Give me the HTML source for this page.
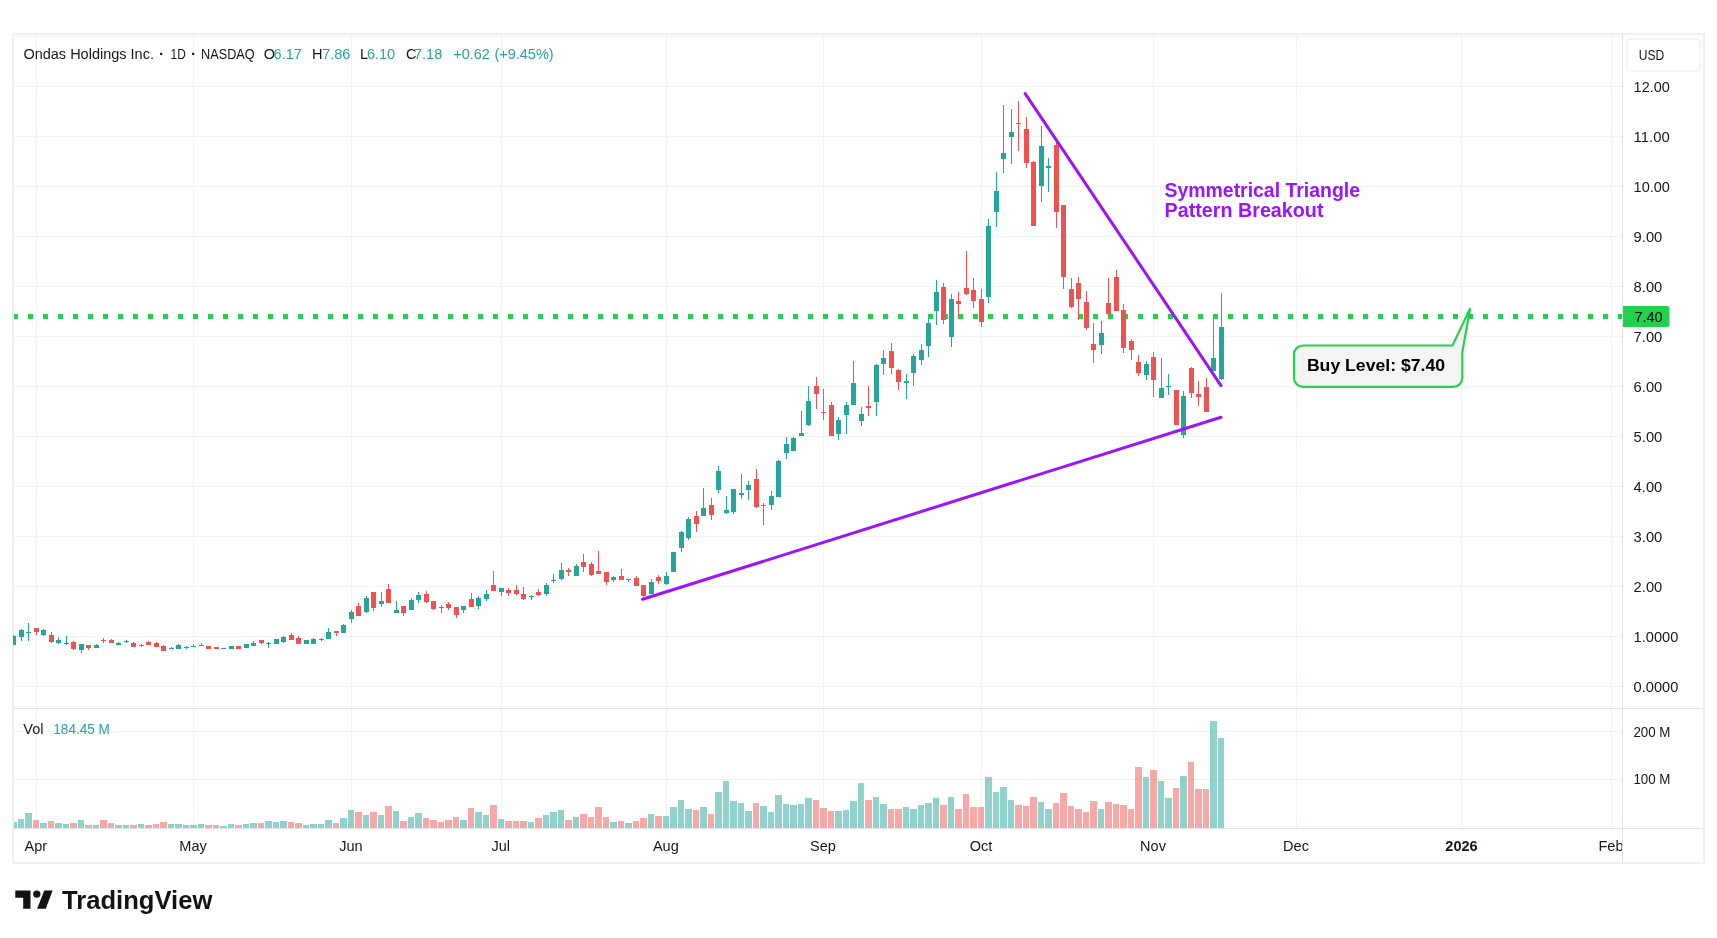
<!DOCTYPE html>
<html><head><meta charset="utf-8"><title>ONDS chart</title>
<style>html,body{margin:0;padding:0;background:#ffffff;width:1717px;height:938px;overflow:hidden;position:relative}</style>
</head><body>
<svg width="1717" height="938" viewBox="0 0 1717 938" style="position:absolute;left:0;top:0;display:block;will-change:transform"><g fill="#f0f0f0" shape-rendering="crispEdges"><rect x="12" y="33" width="1693" height="2"/><rect x="12" y="862" width="1693" height="2"/><rect x="12" y="33" width="2" height="831"/><rect x="1703" y="33" width="2" height="831"/></g><g fill="#f0f3fa" shape-rendering="crispEdges"><rect x="14" y="686" width="1608" height="1"/><rect x="14" y="636" width="1608" height="1"/><rect x="14" y="586" width="1608" height="1"/><rect x="14" y="536" width="1608" height="1"/><rect x="14" y="486" width="1608" height="1"/><rect x="14" y="436" width="1608" height="1"/><rect x="14" y="386" width="1608" height="1"/><rect x="14" y="336" width="1608" height="1"/><rect x="14" y="286" width="1608" height="1"/><rect x="14" y="236" width="1608" height="1"/><rect x="14" y="186" width="1608" height="1"/><rect x="14" y="136" width="1608" height="1"/><rect x="14" y="86" width="1608" height="1"/><rect x="14" y="36" width="1608" height="1"/><rect x="14" y="731" width="1608" height="1"/><rect x="14" y="779" width="1608" height="1"/><rect x="36" y="35" width="1" height="793"/><rect x="193" y="35" width="1" height="793"/><rect x="351" y="35" width="1" height="793"/><rect x="501" y="35" width="1" height="793"/><rect x="666" y="35" width="1" height="793"/><rect x="823" y="35" width="1" height="793"/><rect x="981" y="35" width="1" height="793"/><rect x="1153" y="35" width="1" height="793"/><rect x="1296" y="35" width="1" height="793"/><rect x="1461" y="35" width="1" height="793"/><rect x="1611" y="35" width="1" height="793"/></g><g fill="#e0e3eb" shape-rendering="crispEdges"><rect x="14" y="708" width="1689" height="1"/><rect x="14" y="828" width="1689" height="1"/><rect x="1622" y="35" width="1" height="827"/></g><g shape-rendering="crispEdges"><rect x="14" y="822" width="3" height="6" fill="rgba(38,166,154,0.5)"/><rect x="18" y="819" width="6" height="9" fill="rgba(38,166,154,0.5)"/><rect x="25" y="813" width="7" height="15" fill="rgba(38,166,154,0.5)"/><rect x="33" y="820" width="6" height="8" fill="rgba(239,83,80,0.5)"/><rect x="40" y="823" width="7" height="5" fill="rgba(38,166,154,0.5)"/><rect x="48" y="821" width="6" height="7" fill="rgba(239,83,80,0.5)"/><rect x="55" y="823" width="7" height="5" fill="rgba(38,166,154,0.5)"/><rect x="63" y="824" width="6" height="4" fill="rgba(38,166,154,0.5)"/><rect x="70" y="823" width="7" height="5" fill="rgba(239,83,80,0.5)"/><rect x="78" y="820" width="6" height="8" fill="rgba(38,166,154,0.5)"/><rect x="85" y="825" width="7" height="3" fill="rgba(239,83,80,0.5)"/><rect x="93" y="825" width="6" height="3" fill="rgba(38,166,154,0.5)"/><rect x="100" y="820" width="7" height="8" fill="rgba(239,83,80,0.5)"/><rect x="108" y="823" width="6" height="5" fill="rgba(239,83,80,0.5)"/><rect x="115" y="825" width="7" height="3" fill="rgba(38,166,154,0.5)"/><rect x="123" y="825" width="6" height="3" fill="rgba(38,166,154,0.5)"/><rect x="130" y="825" width="7" height="3" fill="rgba(239,83,80,0.5)"/><rect x="138" y="824" width="6" height="4" fill="rgba(38,166,154,0.5)"/><rect x="145" y="825" width="7" height="3" fill="rgba(239,83,80,0.5)"/><rect x="153" y="824" width="6" height="4" fill="rgba(239,83,80,0.5)"/><rect x="160" y="822" width="7" height="6" fill="rgba(239,83,80,0.5)"/><rect x="168" y="824" width="6" height="4" fill="rgba(38,166,154,0.5)"/><rect x="175" y="824" width="7" height="4" fill="rgba(38,166,154,0.5)"/><rect x="183" y="825" width="6" height="3" fill="rgba(38,166,154,0.5)"/><rect x="190" y="825" width="7" height="3" fill="rgba(38,166,154,0.5)"/><rect x="198" y="824" width="6" height="4" fill="rgba(38,166,154,0.5)"/><rect x="205" y="825" width="7" height="3" fill="rgba(239,83,80,0.5)"/><rect x="213" y="825" width="6" height="3" fill="rgba(239,83,80,0.5)"/><rect x="220" y="826" width="7" height="2" fill="rgba(38,166,154,0.5)"/><rect x="228" y="824" width="6" height="4" fill="rgba(38,166,154,0.5)"/><rect x="235" y="825" width="7" height="3" fill="rgba(239,83,80,0.5)"/><rect x="243" y="824" width="6" height="4" fill="rgba(38,166,154,0.5)"/><rect x="250" y="823" width="7" height="5" fill="rgba(38,166,154,0.5)"/><rect x="258" y="823" width="6" height="5" fill="rgba(239,83,80,0.5)"/><rect x="265" y="821" width="7" height="7" fill="rgba(38,166,154,0.5)"/><rect x="273" y="822" width="6" height="6" fill="rgba(38,166,154,0.5)"/><rect x="280" y="821" width="7" height="7" fill="rgba(38,166,154,0.5)"/><rect x="288" y="822" width="6" height="6" fill="rgba(239,83,80,0.5)"/><rect x="295" y="823" width="7" height="5" fill="rgba(239,83,80,0.5)"/><rect x="303" y="825" width="6" height="3" fill="rgba(38,166,154,0.5)"/><rect x="310" y="824" width="7" height="4" fill="rgba(38,166,154,0.5)"/><rect x="318" y="824" width="6" height="4" fill="rgba(38,166,154,0.5)"/><rect x="325" y="820" width="7" height="8" fill="rgba(38,166,154,0.5)"/><rect x="333" y="823" width="6" height="5" fill="rgba(239,83,80,0.5)"/><rect x="340" y="818" width="7" height="10" fill="rgba(38,166,154,0.5)"/><rect x="348" y="810" width="6" height="18" fill="rgba(38,166,154,0.5)"/><rect x="355" y="812" width="7" height="16" fill="rgba(239,83,80,0.5)"/><rect x="363" y="815" width="6" height="13" fill="rgba(38,166,154,0.5)"/><rect x="370" y="812" width="7" height="16" fill="rgba(239,83,80,0.5)"/><rect x="378" y="815" width="6" height="13" fill="rgba(38,166,154,0.5)"/><rect x="385" y="806" width="7" height="22" fill="rgba(239,83,80,0.5)"/><rect x="393" y="811" width="6" height="17" fill="rgba(38,166,154,0.5)"/><rect x="400" y="821" width="7" height="7" fill="rgba(239,83,80,0.5)"/><rect x="408" y="817" width="6" height="11" fill="rgba(38,166,154,0.5)"/><rect x="415" y="813" width="7" height="15" fill="rgba(38,166,154,0.5)"/><rect x="423" y="818" width="6" height="10" fill="rgba(239,83,80,0.5)"/><rect x="430" y="820" width="7" height="8" fill="rgba(239,83,80,0.5)"/><rect x="438" y="822" width="6" height="6" fill="rgba(239,83,80,0.5)"/><rect x="445" y="820" width="7" height="8" fill="rgba(239,83,80,0.5)"/><rect x="453" y="817" width="6" height="11" fill="rgba(239,83,80,0.5)"/><rect x="460" y="820" width="7" height="8" fill="rgba(38,166,154,0.5)"/><rect x="468" y="808" width="6" height="20" fill="rgba(239,83,80,0.5)"/><rect x="475" y="812" width="7" height="16" fill="rgba(38,166,154,0.5)"/><rect x="483" y="815" width="6" height="13" fill="rgba(38,166,154,0.5)"/><rect x="490" y="805" width="7" height="23" fill="rgba(239,83,80,0.5)"/><rect x="498" y="819" width="6" height="9" fill="rgba(38,166,154,0.5)"/><rect x="505" y="821" width="7" height="7" fill="rgba(239,83,80,0.5)"/><rect x="513" y="821" width="6" height="7" fill="rgba(239,83,80,0.5)"/><rect x="520" y="821" width="7" height="7" fill="rgba(239,83,80,0.5)"/><rect x="528" y="822" width="6" height="6" fill="rgba(38,166,154,0.5)"/><rect x="535" y="818" width="7" height="10" fill="rgba(239,83,80,0.5)"/><rect x="543" y="815" width="6" height="13" fill="rgba(38,166,154,0.5)"/><rect x="550" y="812" width="7" height="16" fill="rgba(38,166,154,0.5)"/><rect x="558" y="810" width="6" height="18" fill="rgba(38,166,154,0.5)"/><rect x="565" y="820" width="7" height="8" fill="rgba(239,83,80,0.5)"/><rect x="573" y="817" width="6" height="11" fill="rgba(38,166,154,0.5)"/><rect x="580" y="814" width="7" height="14" fill="rgba(239,83,80,0.5)"/><rect x="588" y="817" width="6" height="11" fill="rgba(239,83,80,0.5)"/><rect x="595" y="807" width="7" height="21" fill="rgba(239,83,80,0.5)"/><rect x="603" y="817" width="6" height="11" fill="rgba(239,83,80,0.5)"/><rect x="610" y="822" width="7" height="6" fill="rgba(38,166,154,0.5)"/><rect x="618" y="821" width="6" height="7" fill="rgba(239,83,80,0.5)"/><rect x="625" y="823" width="7" height="5" fill="rgba(38,166,154,0.5)"/><rect x="633" y="821" width="6" height="7" fill="rgba(239,83,80,0.5)"/><rect x="640" y="818" width="7" height="10" fill="rgba(239,83,80,0.5)"/><rect x="648" y="814" width="6" height="14" fill="rgba(38,166,154,0.5)"/><rect x="655" y="816" width="7" height="12" fill="rgba(239,83,80,0.5)"/><rect x="663" y="816" width="6" height="12" fill="rgba(38,166,154,0.5)"/><rect x="670" y="807" width="7" height="21" fill="rgba(38,166,154,0.5)"/><rect x="678" y="800" width="6" height="28" fill="rgba(38,166,154,0.5)"/><rect x="685" y="809" width="7" height="19" fill="rgba(38,166,154,0.5)"/><rect x="693" y="810" width="6" height="18" fill="rgba(239,83,80,0.5)"/><rect x="700" y="807" width="7" height="21" fill="rgba(38,166,154,0.5)"/><rect x="708" y="814" width="6" height="14" fill="rgba(239,83,80,0.5)"/><rect x="715" y="792" width="7" height="36" fill="rgba(38,166,154,0.5)"/><rect x="723" y="781" width="6" height="47" fill="rgba(38,166,154,0.5)"/><rect x="730" y="801" width="7" height="27" fill="rgba(38,166,154,0.5)"/><rect x="738" y="803" width="6" height="25" fill="rgba(38,166,154,0.5)"/><rect x="745" y="811" width="7" height="17" fill="rgba(38,166,154,0.5)"/><rect x="753" y="803" width="6" height="25" fill="rgba(239,83,80,0.5)"/><rect x="760" y="806" width="7" height="22" fill="rgba(38,166,154,0.5)"/><rect x="768" y="812" width="6" height="16" fill="rgba(38,166,154,0.5)"/><rect x="775" y="795" width="7" height="33" fill="rgba(38,166,154,0.5)"/><rect x="783" y="804" width="6" height="24" fill="rgba(38,166,154,0.5)"/><rect x="790" y="805" width="7" height="23" fill="rgba(38,166,154,0.5)"/><rect x="798" y="804" width="6" height="24" fill="rgba(38,166,154,0.5)"/><rect x="805" y="798" width="7" height="30" fill="rgba(38,166,154,0.5)"/><rect x="813" y="800" width="6" height="28" fill="rgba(239,83,80,0.5)"/><rect x="820" y="808" width="7" height="20" fill="rgba(239,83,80,0.5)"/><rect x="828" y="811" width="6" height="17" fill="rgba(239,83,80,0.5)"/><rect x="835" y="811" width="7" height="17" fill="rgba(38,166,154,0.5)"/><rect x="843" y="810" width="6" height="18" fill="rgba(38,166,154,0.5)"/><rect x="850" y="801" width="7" height="27" fill="rgba(38,166,154,0.5)"/><rect x="858" y="783" width="6" height="45" fill="rgba(38,166,154,0.5)"/><rect x="865" y="800" width="7" height="28" fill="rgba(239,83,80,0.5)"/><rect x="873" y="797" width="6" height="31" fill="rgba(38,166,154,0.5)"/><rect x="880" y="804" width="7" height="24" fill="rgba(38,166,154,0.5)"/><rect x="888" y="809" width="6" height="19" fill="rgba(239,83,80,0.5)"/><rect x="895" y="809" width="7" height="19" fill="rgba(239,83,80,0.5)"/><rect x="903" y="807" width="6" height="21" fill="rgba(38,166,154,0.5)"/><rect x="910" y="809" width="7" height="19" fill="rgba(38,166,154,0.5)"/><rect x="918" y="805" width="6" height="23" fill="rgba(38,166,154,0.5)"/><rect x="925" y="803" width="7" height="25" fill="rgba(38,166,154,0.5)"/><rect x="933" y="798" width="6" height="30" fill="rgba(38,166,154,0.5)"/><rect x="940" y="805" width="7" height="23" fill="rgba(239,83,80,0.5)"/><rect x="948" y="797" width="6" height="31" fill="rgba(38,166,154,0.5)"/><rect x="955" y="809" width="7" height="19" fill="rgba(239,83,80,0.5)"/><rect x="963" y="794" width="6" height="34" fill="rgba(239,83,80,0.5)"/><rect x="970" y="807" width="7" height="21" fill="rgba(239,83,80,0.5)"/><rect x="978" y="807" width="6" height="21" fill="rgba(239,83,80,0.5)"/><rect x="985" y="777" width="7" height="51" fill="rgba(38,166,154,0.5)"/><rect x="993" y="792" width="6" height="36" fill="rgba(38,166,154,0.5)"/><rect x="1000" y="787" width="7" height="41" fill="rgba(38,166,154,0.5)"/><rect x="1008" y="800" width="6" height="28" fill="rgba(38,166,154,0.5)"/><rect x="1015" y="805" width="7" height="23" fill="rgba(239,83,80,0.5)"/><rect x="1023" y="806" width="6" height="22" fill="rgba(239,83,80,0.5)"/><rect x="1030" y="797" width="7" height="31" fill="rgba(239,83,80,0.5)"/><rect x="1038" y="802" width="6" height="26" fill="rgba(38,166,154,0.5)"/><rect x="1045" y="809" width="7" height="19" fill="rgba(38,166,154,0.5)"/><rect x="1053" y="803" width="6" height="25" fill="rgba(239,83,80,0.5)"/><rect x="1060" y="793" width="7" height="35" fill="rgba(239,83,80,0.5)"/><rect x="1068" y="806" width="6" height="22" fill="rgba(239,83,80,0.5)"/><rect x="1075" y="809" width="7" height="19" fill="rgba(239,83,80,0.5)"/><rect x="1083" y="812" width="6" height="16" fill="rgba(239,83,80,0.5)"/><rect x="1090" y="801" width="7" height="27" fill="rgba(239,83,80,0.5)"/><rect x="1098" y="809" width="6" height="19" fill="rgba(38,166,154,0.5)"/><rect x="1105" y="802" width="7" height="26" fill="rgba(239,83,80,0.5)"/><rect x="1113" y="804" width="6" height="24" fill="rgba(239,83,80,0.5)"/><rect x="1120" y="805" width="7" height="23" fill="rgba(239,83,80,0.5)"/><rect x="1128" y="809" width="6" height="19" fill="rgba(239,83,80,0.5)"/><rect x="1135" y="767" width="7" height="61" fill="rgba(239,83,80,0.5)"/><rect x="1143" y="777" width="6" height="51" fill="rgba(38,166,154,0.5)"/><rect x="1150" y="770" width="7" height="58" fill="rgba(239,83,80,0.5)"/><rect x="1158" y="781" width="6" height="47" fill="rgba(38,166,154,0.5)"/><rect x="1165" y="798" width="7" height="30" fill="rgba(38,166,154,0.5)"/><rect x="1173" y="788" width="6" height="40" fill="rgba(239,83,80,0.5)"/><rect x="1180" y="776" width="7" height="52" fill="rgba(38,166,154,0.5)"/><rect x="1188" y="762" width="6" height="66" fill="rgba(239,83,80,0.5)"/><rect x="1195" y="789" width="7" height="39" fill="rgba(239,83,80,0.5)"/><rect x="1203" y="789" width="6" height="39" fill="rgba(239,83,80,0.5)"/><rect x="1210" y="721" width="7" height="107" fill="rgba(38,166,154,0.5)"/><rect x="1218" y="738" width="6" height="90" fill="rgba(38,166,154,0.5)"/></g><g fill="#22d24c" shape-rendering="crispEdges"><rect x="14" y="314" width="4" height="5"/><rect x="28" y="314" width="5" height="5"/><rect x="43" y="314" width="5" height="5"/><rect x="58" y="314" width="5" height="5"/><rect x="73" y="314" width="5" height="5"/><rect x="88" y="314" width="5" height="5"/><rect x="103" y="314" width="5" height="5"/><rect x="118" y="314" width="5" height="5"/><rect x="133" y="314" width="5" height="5"/><rect x="148" y="314" width="5" height="5"/><rect x="163" y="314" width="5" height="5"/><rect x="178" y="314" width="5" height="5"/><rect x="193" y="314" width="5" height="5"/><rect x="208" y="314" width="5" height="5"/><rect x="223" y="314" width="5" height="5"/><rect x="238" y="314" width="5" height="5"/><rect x="253" y="314" width="5" height="5"/><rect x="268" y="314" width="5" height="5"/><rect x="283" y="314" width="5" height="5"/><rect x="298" y="314" width="5" height="5"/><rect x="313" y="314" width="5" height="5"/><rect x="328" y="314" width="5" height="5"/><rect x="343" y="314" width="5" height="5"/><rect x="358" y="314" width="5" height="5"/><rect x="373" y="314" width="5" height="5"/><rect x="388" y="314" width="5" height="5"/><rect x="403" y="314" width="5" height="5"/><rect x="418" y="314" width="5" height="5"/><rect x="433" y="314" width="5" height="5"/><rect x="448" y="314" width="5" height="5"/><rect x="463" y="314" width="5" height="5"/><rect x="478" y="314" width="5" height="5"/><rect x="493" y="314" width="5" height="5"/><rect x="508" y="314" width="5" height="5"/><rect x="523" y="314" width="5" height="5"/><rect x="538" y="314" width="5" height="5"/><rect x="553" y="314" width="5" height="5"/><rect x="568" y="314" width="5" height="5"/><rect x="583" y="314" width="5" height="5"/><rect x="598" y="314" width="5" height="5"/><rect x="613" y="314" width="5" height="5"/><rect x="628" y="314" width="5" height="5"/><rect x="643" y="314" width="5" height="5"/><rect x="658" y="314" width="5" height="5"/><rect x="673" y="314" width="5" height="5"/><rect x="688" y="314" width="5" height="5"/><rect x="703" y="314" width="5" height="5"/><rect x="718" y="314" width="5" height="5"/><rect x="733" y="314" width="5" height="5"/><rect x="748" y="314" width="5" height="5"/><rect x="763" y="314" width="5" height="5"/><rect x="778" y="314" width="5" height="5"/><rect x="793" y="314" width="5" height="5"/><rect x="808" y="314" width="5" height="5"/><rect x="823" y="314" width="5" height="5"/><rect x="838" y="314" width="5" height="5"/><rect x="853" y="314" width="5" height="5"/><rect x="868" y="314" width="5" height="5"/><rect x="883" y="314" width="5" height="5"/><rect x="898" y="314" width="5" height="5"/><rect x="913" y="314" width="5" height="5"/><rect x="928" y="314" width="5" height="5"/><rect x="943" y="314" width="5" height="5"/><rect x="958" y="314" width="5" height="5"/><rect x="973" y="314" width="5" height="5"/><rect x="988" y="314" width="5" height="5"/><rect x="1003" y="314" width="5" height="5"/><rect x="1018" y="314" width="5" height="5"/><rect x="1033" y="314" width="5" height="5"/><rect x="1048" y="314" width="5" height="5"/><rect x="1063" y="314" width="5" height="5"/><rect x="1078" y="314" width="5" height="5"/><rect x="1093" y="314" width="5" height="5"/><rect x="1108" y="314" width="5" height="5"/><rect x="1123" y="314" width="5" height="5"/><rect x="1138" y="314" width="5" height="5"/><rect x="1153" y="314" width="5" height="5"/><rect x="1168" y="314" width="5" height="5"/><rect x="1183" y="314" width="5" height="5"/><rect x="1198" y="314" width="5" height="5"/><rect x="1213" y="314" width="5" height="5"/><rect x="1228" y="314" width="5" height="5"/><rect x="1243" y="314" width="5" height="5"/><rect x="1258" y="314" width="5" height="5"/><rect x="1273" y="314" width="5" height="5"/><rect x="1288" y="314" width="5" height="5"/><rect x="1303" y="314" width="5" height="5"/><rect x="1318" y="314" width="5" height="5"/><rect x="1333" y="314" width="5" height="5"/><rect x="1348" y="314" width="5" height="5"/><rect x="1363" y="314" width="5" height="5"/><rect x="1378" y="314" width="5" height="5"/><rect x="1393" y="314" width="5" height="5"/><rect x="1408" y="314" width="5" height="5"/><rect x="1423" y="314" width="5" height="5"/><rect x="1438" y="314" width="5" height="5"/><rect x="1453" y="314" width="5" height="5"/><rect x="1468" y="314" width="5" height="5"/><rect x="1483" y="314" width="5" height="5"/><rect x="1498" y="314" width="5" height="5"/><rect x="1513" y="314" width="5" height="5"/><rect x="1528" y="314" width="5" height="5"/><rect x="1543" y="314" width="5" height="5"/><rect x="1558" y="314" width="5" height="5"/><rect x="1573" y="314" width="5" height="5"/><rect x="1588" y="314" width="5" height="5"/><rect x="1603" y="314" width="5" height="5"/><rect x="1618" y="314" width="4" height="5"/></g><g shape-rendering="crispEdges"><rect x="13" y="635" width="1" height="10" fill="#26a69a"/><rect x="14" y="636" width="2" height="9" fill="#26a69a"/><rect x="21" y="629" width="1" height="12" fill="#26a69a"/><rect x="19" y="630" width="5" height="7" fill="#26a69a"/><rect x="28" y="623" width="1" height="18" fill="#26a69a"/><rect x="26" y="632" width="5" height="1" fill="#26a69a"/><rect x="36" y="628" width="1" height="7" fill="#ef5350"/><rect x="34" y="628" width="5" height="4" fill="#ef5350"/><rect x="43" y="629" width="1" height="7" fill="#26a69a"/><rect x="41" y="630" width="5" height="5" fill="#26a69a"/><rect x="51" y="632" width="1" height="11" fill="#ef5350"/><rect x="49" y="635" width="5" height="7" fill="#ef5350"/><rect x="58" y="637" width="1" height="7" fill="#26a69a"/><rect x="56" y="640" width="5" height="3" fill="#26a69a"/><rect x="66" y="636" width="1" height="9" fill="#26a69a"/><rect x="64" y="643" width="5" height="1" fill="#26a69a"/><rect x="73" y="641" width="1" height="9" fill="#ef5350"/><rect x="71" y="642" width="5" height="7" fill="#ef5350"/><rect x="81" y="644" width="1" height="9" fill="#26a69a"/><rect x="79" y="644" width="5" height="6" fill="#26a69a"/><rect x="88" y="645" width="1" height="5" fill="#ef5350"/><rect x="86" y="645" width="5" height="3" fill="#ef5350"/><rect x="96" y="644" width="1" height="4" fill="#26a69a"/><rect x="94" y="645" width="5" height="3" fill="#26a69a"/><rect x="103" y="638" width="1" height="5" fill="#ef5350"/><rect x="101" y="640" width="5" height="1" fill="#ef5350"/><rect x="111" y="639" width="1" height="4" fill="#ef5350"/><rect x="109" y="640" width="5" height="3" fill="#ef5350"/><rect x="118" y="642" width="1" height="3" fill="#26a69a"/><rect x="116" y="643" width="5" height="2" fill="#26a69a"/><rect x="126" y="640" width="1" height="3" fill="#26a69a"/><rect x="124" y="641" width="5" height="1" fill="#26a69a"/><rect x="133" y="642" width="1" height="5" fill="#ef5350"/><rect x="131" y="643" width="5" height="4" fill="#ef5350"/><rect x="141" y="644" width="1" height="3" fill="#26a69a"/><rect x="139" y="645" width="5" height="1" fill="#26a69a"/><rect x="148" y="641" width="1" height="4" fill="#ef5350"/><rect x="146" y="642" width="5" height="3" fill="#ef5350"/><rect x="156" y="642" width="1" height="5" fill="#ef5350"/><rect x="154" y="643" width="5" height="4" fill="#ef5350"/><rect x="163" y="645" width="1" height="6" fill="#ef5350"/><rect x="161" y="646" width="5" height="5" fill="#ef5350"/><rect x="171" y="647" width="1" height="2" fill="#26a69a"/><rect x="169" y="648" width="5" height="1" fill="#26a69a"/><rect x="178" y="644" width="1" height="5" fill="#26a69a"/><rect x="176" y="645" width="5" height="4" fill="#26a69a"/><rect x="186" y="646" width="1" height="3" fill="#26a69a"/><rect x="184" y="647" width="5" height="1" fill="#26a69a"/><rect x="193" y="644" width="1" height="3" fill="#26a69a"/><rect x="191" y="646" width="5" height="1" fill="#26a69a"/><rect x="201" y="643" width="1" height="3" fill="#26a69a"/><rect x="199" y="645" width="5" height="1" fill="#26a69a"/><rect x="208" y="646" width="1" height="3" fill="#ef5350"/><rect x="206" y="646" width="5" height="3" fill="#ef5350"/><rect x="216" y="647" width="1" height="2" fill="#ef5350"/><rect x="214" y="647" width="5" height="2" fill="#ef5350"/><rect x="223" y="648" width="1" height="1" fill="#26a69a"/><rect x="221" y="648" width="5" height="1" fill="#26a69a"/><rect x="231" y="646" width="1" height="3" fill="#26a69a"/><rect x="229" y="646" width="5" height="3" fill="#26a69a"/><rect x="238" y="646" width="1" height="3" fill="#ef5350"/><rect x="236" y="646" width="5" height="3" fill="#ef5350"/><rect x="246" y="644" width="1" height="4" fill="#26a69a"/><rect x="244" y="644" width="5" height="4" fill="#26a69a"/><rect x="253" y="641" width="1" height="5" fill="#26a69a"/><rect x="251" y="643" width="5" height="3" fill="#26a69a"/><rect x="261" y="640" width="1" height="4" fill="#ef5350"/><rect x="259" y="640" width="5" height="3" fill="#ef5350"/><rect x="268" y="642" width="1" height="6" fill="#26a69a"/><rect x="266" y="643" width="5" height="1" fill="#26a69a"/><rect x="276" y="639" width="1" height="5" fill="#26a69a"/><rect x="274" y="639" width="5" height="5" fill="#26a69a"/><rect x="283" y="636" width="1" height="7" fill="#26a69a"/><rect x="281" y="637" width="5" height="5" fill="#26a69a"/><rect x="291" y="633" width="1" height="7" fill="#ef5350"/><rect x="289" y="635" width="5" height="5" fill="#ef5350"/><rect x="298" y="636" width="1" height="8" fill="#ef5350"/><rect x="296" y="638" width="5" height="6" fill="#ef5350"/><rect x="306" y="640" width="1" height="4" fill="#26a69a"/><rect x="304" y="640" width="5" height="4" fill="#26a69a"/><rect x="313" y="638" width="1" height="6" fill="#26a69a"/><rect x="311" y="639" width="5" height="5" fill="#26a69a"/><rect x="321" y="638" width="1" height="3" fill="#26a69a"/><rect x="319" y="639" width="5" height="1" fill="#26a69a"/><rect x="328" y="628" width="1" height="11" fill="#26a69a"/><rect x="326" y="632" width="5" height="7" fill="#26a69a"/><rect x="336" y="631" width="1" height="5" fill="#ef5350"/><rect x="334" y="631" width="5" height="2" fill="#ef5350"/><rect x="343" y="624" width="1" height="9" fill="#26a69a"/><rect x="341" y="625" width="5" height="8" fill="#26a69a"/><rect x="351" y="610" width="1" height="13" fill="#26a69a"/><rect x="349" y="612" width="5" height="7" fill="#26a69a"/><rect x="358" y="603" width="1" height="13" fill="#ef5350"/><rect x="356" y="606" width="5" height="10" fill="#ef5350"/><rect x="366" y="596" width="1" height="17" fill="#26a69a"/><rect x="364" y="598" width="5" height="14" fill="#26a69a"/><rect x="373" y="592" width="1" height="19" fill="#ef5350"/><rect x="371" y="592" width="5" height="16" fill="#ef5350"/><rect x="381" y="592" width="1" height="15" fill="#26a69a"/><rect x="379" y="601" width="5" height="3" fill="#26a69a"/><rect x="388" y="584" width="1" height="19" fill="#ef5350"/><rect x="386" y="589" width="5" height="14" fill="#ef5350"/><rect x="396" y="601" width="1" height="12" fill="#26a69a"/><rect x="394" y="610" width="5" height="3" fill="#26a69a"/><rect x="403" y="606" width="1" height="10" fill="#ef5350"/><rect x="401" y="606" width="5" height="7" fill="#ef5350"/><rect x="411" y="598" width="1" height="12" fill="#26a69a"/><rect x="409" y="600" width="5" height="10" fill="#26a69a"/><rect x="418" y="592" width="1" height="11" fill="#26a69a"/><rect x="416" y="595" width="5" height="5" fill="#26a69a"/><rect x="426" y="591" width="1" height="12" fill="#ef5350"/><rect x="424" y="594" width="5" height="8" fill="#ef5350"/><rect x="433" y="601" width="1" height="9" fill="#ef5350"/><rect x="431" y="601" width="5" height="8" fill="#ef5350"/><rect x="441" y="605" width="1" height="8" fill="#ef5350"/><rect x="439" y="607" width="5" height="1" fill="#ef5350"/><rect x="448" y="602" width="1" height="8" fill="#ef5350"/><rect x="446" y="604" width="5" height="4" fill="#ef5350"/><rect x="456" y="607" width="1" height="11" fill="#ef5350"/><rect x="454" y="607" width="5" height="8" fill="#ef5350"/><rect x="463" y="606" width="1" height="7" fill="#26a69a"/><rect x="461" y="606" width="5" height="4" fill="#26a69a"/><rect x="471" y="593" width="1" height="14" fill="#ef5350"/><rect x="469" y="599" width="5" height="8" fill="#ef5350"/><rect x="478" y="596" width="1" height="13" fill="#26a69a"/><rect x="476" y="598" width="5" height="8" fill="#26a69a"/><rect x="486" y="590" width="1" height="11" fill="#26a69a"/><rect x="484" y="594" width="5" height="5" fill="#26a69a"/><rect x="493" y="571" width="1" height="20" fill="#ef5350"/><rect x="491" y="585" width="5" height="6" fill="#ef5350"/><rect x="501" y="588" width="1" height="8" fill="#26a69a"/><rect x="499" y="588" width="5" height="4" fill="#26a69a"/><rect x="508" y="588" width="1" height="8" fill="#ef5350"/><rect x="506" y="590" width="5" height="3" fill="#ef5350"/><rect x="516" y="585" width="1" height="10" fill="#ef5350"/><rect x="514" y="590" width="5" height="4" fill="#ef5350"/><rect x="523" y="587" width="1" height="13" fill="#ef5350"/><rect x="521" y="594" width="5" height="5" fill="#ef5350"/><rect x="531" y="595" width="1" height="5" fill="#26a69a"/><rect x="529" y="596" width="5" height="1" fill="#26a69a"/><rect x="538" y="589" width="1" height="7" fill="#ef5350"/><rect x="536" y="592" width="5" height="3" fill="#ef5350"/><rect x="546" y="583" width="1" height="13" fill="#26a69a"/><rect x="544" y="585" width="5" height="9" fill="#26a69a"/><rect x="553" y="574" width="1" height="9" fill="#26a69a"/><rect x="551" y="580" width="5" height="1" fill="#26a69a"/><rect x="561" y="563" width="1" height="17" fill="#26a69a"/><rect x="559" y="570" width="5" height="9" fill="#26a69a"/><rect x="568" y="568" width="1" height="8" fill="#ef5350"/><rect x="566" y="570" width="5" height="2" fill="#ef5350"/><rect x="576" y="564" width="1" height="12" fill="#26a69a"/><rect x="574" y="566" width="5" height="10" fill="#26a69a"/><rect x="583" y="554" width="1" height="18" fill="#ef5350"/><rect x="581" y="562" width="5" height="5" fill="#ef5350"/><rect x="591" y="562" width="1" height="14" fill="#ef5350"/><rect x="589" y="564" width="5" height="11" fill="#ef5350"/><rect x="598" y="551" width="1" height="23" fill="#ef5350"/><rect x="596" y="571" width="5" height="3" fill="#ef5350"/><rect x="606" y="572" width="1" height="13" fill="#ef5350"/><rect x="604" y="572" width="5" height="10" fill="#ef5350"/><rect x="613" y="576" width="1" height="6" fill="#26a69a"/><rect x="611" y="577" width="5" height="3" fill="#26a69a"/><rect x="621" y="569" width="1" height="11" fill="#ef5350"/><rect x="619" y="576" width="5" height="4" fill="#ef5350"/><rect x="628" y="579" width="1" height="3" fill="#26a69a"/><rect x="626" y="579" width="5" height="1" fill="#26a69a"/><rect x="636" y="576" width="1" height="10" fill="#ef5350"/><rect x="634" y="578" width="5" height="8" fill="#ef5350"/><rect x="643" y="585" width="1" height="12" fill="#ef5350"/><rect x="641" y="585" width="5" height="11" fill="#ef5350"/><rect x="651" y="579" width="1" height="15" fill="#26a69a"/><rect x="649" y="582" width="5" height="12" fill="#26a69a"/><rect x="658" y="575" width="1" height="9" fill="#ef5350"/><rect x="656" y="577" width="5" height="4" fill="#ef5350"/><rect x="666" y="572" width="1" height="13" fill="#26a69a"/><rect x="664" y="576" width="5" height="8" fill="#26a69a"/><rect x="673" y="552" width="1" height="20" fill="#26a69a"/><rect x="671" y="552" width="5" height="20" fill="#26a69a"/><rect x="681" y="531" width="1" height="21" fill="#26a69a"/><rect x="679" y="532" width="5" height="16" fill="#26a69a"/><rect x="688" y="517" width="1" height="23" fill="#26a69a"/><rect x="686" y="519" width="5" height="19" fill="#26a69a"/><rect x="696" y="511" width="1" height="21" fill="#ef5350"/><rect x="694" y="516" width="5" height="8" fill="#ef5350"/><rect x="703" y="488" width="1" height="28" fill="#26a69a"/><rect x="701" y="508" width="5" height="8" fill="#26a69a"/><rect x="711" y="498" width="1" height="22" fill="#ef5350"/><rect x="709" y="505" width="5" height="10" fill="#ef5350"/><rect x="718" y="466" width="1" height="27" fill="#26a69a"/><rect x="716" y="471" width="5" height="19" fill="#26a69a"/><rect x="726" y="496" width="1" height="18" fill="#26a69a"/><rect x="724" y="510" width="5" height="3" fill="#26a69a"/><rect x="733" y="489" width="1" height="25" fill="#26a69a"/><rect x="731" y="489" width="5" height="23" fill="#26a69a"/><rect x="741" y="474" width="1" height="25" fill="#26a69a"/><rect x="739" y="493" width="5" height="2" fill="#26a69a"/><rect x="748" y="481" width="1" height="19" fill="#26a69a"/><rect x="746" y="485" width="5" height="5" fill="#26a69a"/><rect x="756" y="469" width="1" height="39" fill="#ef5350"/><rect x="754" y="479" width="5" height="28" fill="#ef5350"/><rect x="763" y="503" width="1" height="22" fill="#26a69a"/><rect x="761" y="505" width="5" height="1" fill="#26a69a"/><rect x="771" y="491" width="1" height="19" fill="#26a69a"/><rect x="769" y="496" width="5" height="9" fill="#26a69a"/><rect x="778" y="460" width="1" height="37" fill="#26a69a"/><rect x="776" y="461" width="5" height="36" fill="#26a69a"/><rect x="786" y="437" width="1" height="22" fill="#26a69a"/><rect x="784" y="444" width="5" height="9" fill="#26a69a"/><rect x="793" y="437" width="1" height="14" fill="#26a69a"/><rect x="791" y="438" width="5" height="13" fill="#26a69a"/><rect x="801" y="411" width="1" height="25" fill="#26a69a"/><rect x="799" y="433" width="5" height="3" fill="#26a69a"/><rect x="808" y="386" width="1" height="40" fill="#26a69a"/><rect x="806" y="401" width="5" height="24" fill="#26a69a"/><rect x="816" y="377" width="1" height="32" fill="#ef5350"/><rect x="814" y="386" width="5" height="8" fill="#ef5350"/><rect x="823" y="389" width="1" height="31" fill="#ef5350"/><rect x="821" y="412" width="5" height="1" fill="#ef5350"/><rect x="831" y="402" width="1" height="34" fill="#ef5350"/><rect x="829" y="405" width="5" height="31" fill="#ef5350"/><rect x="838" y="417" width="1" height="23" fill="#26a69a"/><rect x="836" y="420" width="5" height="14" fill="#26a69a"/><rect x="846" y="402" width="1" height="32" fill="#26a69a"/><rect x="844" y="405" width="5" height="10" fill="#26a69a"/><rect x="853" y="361" width="1" height="44" fill="#26a69a"/><rect x="851" y="383" width="5" height="22" fill="#26a69a"/><rect x="861" y="407" width="1" height="19" fill="#26a69a"/><rect x="859" y="414" width="5" height="7" fill="#26a69a"/><rect x="868" y="386" width="1" height="30" fill="#ef5350"/><rect x="866" y="406" width="5" height="2" fill="#ef5350"/><rect x="876" y="364" width="1" height="52" fill="#26a69a"/><rect x="874" y="365" width="5" height="37" fill="#26a69a"/><rect x="883" y="350" width="1" height="25" fill="#26a69a"/><rect x="881" y="358" width="5" height="6" fill="#26a69a"/><rect x="891" y="343" width="1" height="31" fill="#ef5350"/><rect x="889" y="351" width="5" height="17" fill="#ef5350"/><rect x="898" y="369" width="1" height="21" fill="#ef5350"/><rect x="896" y="370" width="5" height="12" fill="#ef5350"/><rect x="906" y="374" width="1" height="25" fill="#26a69a"/><rect x="904" y="381" width="5" height="2" fill="#26a69a"/><rect x="913" y="354" width="1" height="32" fill="#26a69a"/><rect x="911" y="356" width="5" height="17" fill="#26a69a"/><rect x="921" y="344" width="1" height="21" fill="#26a69a"/><rect x="919" y="350" width="5" height="10" fill="#26a69a"/><rect x="928" y="318" width="1" height="39" fill="#26a69a"/><rect x="926" y="323" width="5" height="23" fill="#26a69a"/><rect x="936" y="280" width="1" height="45" fill="#26a69a"/><rect x="934" y="292" width="5" height="19" fill="#26a69a"/><rect x="943" y="283" width="1" height="41" fill="#ef5350"/><rect x="941" y="287" width="5" height="33" fill="#ef5350"/><rect x="951" y="294" width="1" height="53" fill="#26a69a"/><rect x="949" y="299" width="5" height="38" fill="#26a69a"/><rect x="958" y="292" width="1" height="26" fill="#ef5350"/><rect x="956" y="301" width="5" height="3" fill="#ef5350"/><rect x="966" y="251" width="1" height="44" fill="#ef5350"/><rect x="964" y="288" width="5" height="6" fill="#ef5350"/><rect x="973" y="278" width="1" height="30" fill="#ef5350"/><rect x="971" y="290" width="5" height="11" fill="#ef5350"/><rect x="981" y="289" width="1" height="38" fill="#ef5350"/><rect x="979" y="299" width="5" height="23" fill="#ef5350"/><rect x="988" y="219" width="1" height="84" fill="#26a69a"/><rect x="986" y="226" width="5" height="71" fill="#26a69a"/><rect x="996" y="172" width="1" height="55" fill="#26a69a"/><rect x="994" y="191" width="5" height="21" fill="#26a69a"/><rect x="1003" y="105" width="1" height="68" fill="#26a69a"/><rect x="1001" y="153" width="5" height="6" fill="#26a69a"/><rect x="1011" y="109" width="1" height="55" fill="#26a69a"/><rect x="1009" y="132" width="5" height="5" fill="#26a69a"/><rect x="1018" y="101" width="1" height="50" fill="#ef5350"/><rect x="1016" y="123" width="5" height="1" fill="#ef5350"/><rect x="1026" y="117" width="1" height="51" fill="#ef5350"/><rect x="1024" y="129" width="5" height="34" fill="#ef5350"/><rect x="1033" y="161" width="1" height="65" fill="#ef5350"/><rect x="1031" y="162" width="5" height="64" fill="#ef5350"/><rect x="1041" y="126" width="1" height="76" fill="#26a69a"/><rect x="1039" y="146" width="5" height="40" fill="#26a69a"/><rect x="1048" y="158" width="1" height="34" fill="#26a69a"/><rect x="1046" y="166" width="5" height="2" fill="#26a69a"/><rect x="1056" y="143" width="1" height="85" fill="#ef5350"/><rect x="1054" y="145" width="5" height="67" fill="#ef5350"/><rect x="1063" y="205" width="1" height="84" fill="#ef5350"/><rect x="1061" y="205" width="5" height="72" fill="#ef5350"/><rect x="1071" y="278" width="1" height="30" fill="#ef5350"/><rect x="1069" y="289" width="5" height="18" fill="#ef5350"/><rect x="1078" y="277" width="1" height="43" fill="#ef5350"/><rect x="1076" y="283" width="5" height="16" fill="#ef5350"/><rect x="1086" y="291" width="1" height="39" fill="#ef5350"/><rect x="1084" y="302" width="5" height="26" fill="#ef5350"/><rect x="1093" y="323" width="1" height="40" fill="#ef5350"/><rect x="1091" y="344" width="5" height="6" fill="#ef5350"/><rect x="1101" y="321" width="1" height="33" fill="#26a69a"/><rect x="1099" y="333" width="5" height="12" fill="#26a69a"/><rect x="1108" y="278" width="1" height="38" fill="#ef5350"/><rect x="1106" y="303" width="5" height="11" fill="#ef5350"/><rect x="1116" y="270" width="1" height="41" fill="#ef5350"/><rect x="1114" y="277" width="5" height="34" fill="#ef5350"/><rect x="1123" y="304" width="1" height="49" fill="#ef5350"/><rect x="1121" y="310" width="5" height="38" fill="#ef5350"/><rect x="1131" y="339" width="1" height="21" fill="#ef5350"/><rect x="1129" y="341" width="5" height="9" fill="#ef5350"/><rect x="1138" y="355" width="1" height="21" fill="#ef5350"/><rect x="1136" y="362" width="5" height="11" fill="#ef5350"/><rect x="1146" y="361" width="1" height="19" fill="#26a69a"/><rect x="1144" y="364" width="5" height="11" fill="#26a69a"/><rect x="1153" y="352" width="1" height="45" fill="#ef5350"/><rect x="1151" y="357" width="5" height="23" fill="#ef5350"/><rect x="1161" y="358" width="1" height="40" fill="#26a69a"/><rect x="1159" y="388" width="5" height="10" fill="#26a69a"/><rect x="1168" y="374" width="1" height="21" fill="#26a69a"/><rect x="1166" y="386" width="5" height="1" fill="#26a69a"/><rect x="1176" y="390" width="1" height="35" fill="#ef5350"/><rect x="1174" y="390" width="5" height="35" fill="#ef5350"/><rect x="1183" y="391" width="1" height="47" fill="#26a69a"/><rect x="1181" y="396" width="5" height="39" fill="#26a69a"/><rect x="1191" y="367" width="1" height="31" fill="#ef5350"/><rect x="1189" y="368" width="5" height="25" fill="#ef5350"/><rect x="1198" y="381" width="1" height="25" fill="#ef5350"/><rect x="1196" y="394" width="5" height="3" fill="#ef5350"/><rect x="1206" y="378" width="1" height="34" fill="#ef5350"/><rect x="1204" y="387" width="5" height="25" fill="#ef5350"/><rect x="1213" y="318" width="1" height="53" fill="#26a69a"/><rect x="1211" y="358" width="5" height="13" fill="#26a69a"/><rect x="1221" y="293" width="1" height="87" fill="#26a69a"/><rect x="1219" y="327" width="5" height="52" fill="#26a69a"/></g><g stroke="#9b14fa" stroke-width="3" stroke-linecap="round" fill="none"><line x1="642.6" y1="599.3" x2="1221" y2="417.2"/><line x1="1025.2" y1="93.6" x2="1221" y2="385.6"/></g><g font-family='"Liberation Sans", sans-serif' font-weight="700" fill="#9b14fa" font-size="19.8"><text x="1164.5" y="196.8" textLength="195.5" lengthAdjust="spacingAndGlyphs">Symmetrical Triangle</text><text x="1164.5" y="217.2" textLength="159" lengthAdjust="spacingAndGlyphs">Pattern Breakout</text></g><path d="M1303.0,345.5 L1452.5,345.5 L1470.2,308.3 L1462.3,352.4 L1462.3,377.8 A9,9 0 0 1 1453.3,386.8 L1303.0,386.8 A9,9 0 0 1 1294.0,377.8 L1294.0,354.5 A9,9 0 0 1 1303.0,345.5 Z" fill="#f4f4f4" stroke="#22d24c" stroke-width="2.2" stroke-linejoin="miter"/><text x="1306.9" y="371" font-family='"Liberation Sans", sans-serif' font-weight="700" font-size="17.2" fill="#000" textLength="138.2" lengthAdjust="spacingAndGlyphs">Buy Level: $7.40</text><path d="M1623,306 L1667,306 Q1669.5,306 1669.5,308.5 L1669.5,324.5 Q1669.5,327 1667,327 L1623,327 Z" fill="#22d24c"/><g font-family='"Liberation Sans", sans-serif' font-size="14.5" fill="#131722"><text x="1633.6" y="92" textLength="36.2" lengthAdjust="spacingAndGlyphs">12.00</text><text x="1633.6" y="142" textLength="36.2" lengthAdjust="spacingAndGlyphs">11.00</text><text x="1633.6" y="192" textLength="36.2" lengthAdjust="spacingAndGlyphs">10.00</text><text x="1633.6" y="242" textLength="28.7" lengthAdjust="spacingAndGlyphs">9.00</text><text x="1633.6" y="292" textLength="28.7" lengthAdjust="spacingAndGlyphs">8.00</text><text x="1633.6" y="342" textLength="28.7" lengthAdjust="spacingAndGlyphs">7.00</text><text x="1633.6" y="392" textLength="28.7" lengthAdjust="spacingAndGlyphs">6.00</text><text x="1633.6" y="442" textLength="28.7" lengthAdjust="spacingAndGlyphs">5.00</text><text x="1633.6" y="492" textLength="28.7" lengthAdjust="spacingAndGlyphs">4.00</text><text x="1633.6" y="542" textLength="28.7" lengthAdjust="spacingAndGlyphs">3.00</text><text x="1633.6" y="592" textLength="28.7" lengthAdjust="spacingAndGlyphs">2.00</text><text x="1633.6" y="641.5" textLength="44.8" lengthAdjust="spacingAndGlyphs">1.0000</text><text x="1633.6" y="691.5" textLength="44.8" lengthAdjust="spacingAndGlyphs">0.0000</text><text x="1634.4" y="322.1" fill="#000" textLength="28.3" lengthAdjust="spacingAndGlyphs">7.40</text><text x="1633.4" y="737.2" textLength="37.1" lengthAdjust="spacingAndGlyphs">200 M</text><text x="1633.4" y="784" textLength="37.1" lengthAdjust="spacingAndGlyphs">100 M</text><clipPath id="tclip"><rect x="14" y="829" width="1608" height="33"/></clipPath><g clip-path="url(#tclip)"><text x="35.8" y="851" text-anchor="middle">Apr</text><text x="193.0" y="851" text-anchor="middle">May</text><text x="351.0" y="851" text-anchor="middle">Jun</text><text x="500.8" y="851" text-anchor="middle">Jul</text><text x="665.8" y="851" text-anchor="middle">Aug</text><text x="823.0" y="851" text-anchor="middle">Sep</text><text x="981.0" y="851" text-anchor="middle">Oct</text><text x="1153.0" y="851" text-anchor="middle">Nov</text><text x="1296.0" y="851" text-anchor="middle">Dec</text><text x="1611.0" y="851" text-anchor="middle">Feb</text></g><text x="1461.5" y="851" text-anchor="middle" font-weight="700">2026</text></g><g font-family='"Liberation Sans", sans-serif' font-size="14.5" fill="#131722"><text x="23.4" y="59">Ondas Holdings Inc.</text><text x="161.7" y="59" text-anchor="middle" font-weight="700" font-size="15.5">·</text><text x="170.6" y="59" textLength="15.2" lengthAdjust="spacingAndGlyphs">1D</text><text x="193.5" y="59" text-anchor="middle" font-weight="700" font-size="15.5">·</text><text x="201.1" y="59" textLength="53.5" lengthAdjust="spacingAndGlyphs">NASDAQ</text><text x="263.8" y="59">O</text><text x="312" y="59">H</text><text x="359.9" y="59">L</text><text x="406" y="59">C</text><text x="273.6" y="59" fill="#26a69a">6.17</text><text x="322.2" y="59" fill="#26a69a">7.86</text><text x="366.9" y="59" fill="#26a69a">6.10</text><text x="414" y="59" fill="#26a69a">7.18</text><text x="453.2" y="59" fill="#26a69a">+0.62</text><text x="494.4" y="59" fill="#26a69a">(+9.45%)</text><text x="23.3" y="734">Vol</text><text x="53.3" y="734" fill="#26a69a" textLength="56.6" lengthAdjust="spacingAndGlyphs">184.45 M</text></g><rect x="1627" y="39" width="73" height="32" rx="4" fill="#fff" stroke="#ebebeb" stroke-width="1"/><text x="1638.8" y="60" font-family='"Liberation Sans", sans-serif' font-size="14.5" fill="#131722" textLength="25.5" lengthAdjust="spacingAndGlyphs">USD</text><g fill="#131313"><path d="M15.3,890.4 L30.5,890.4 L30.5,908.8 L23.2,908.8 L23.2,897.7 L15.3,897.7 Z"/><circle cx="36.8" cy="894.1" r="3.7"/><path d="M44.3,890.4 L52.6,890.4 L45.8,908.8 L37.1,908.8 Z"/><text x="62" y="909" font-family='"Liberation Sans", sans-serif' font-weight="700" font-size="25.6">TradingView</text></g></svg>
</body></html>
